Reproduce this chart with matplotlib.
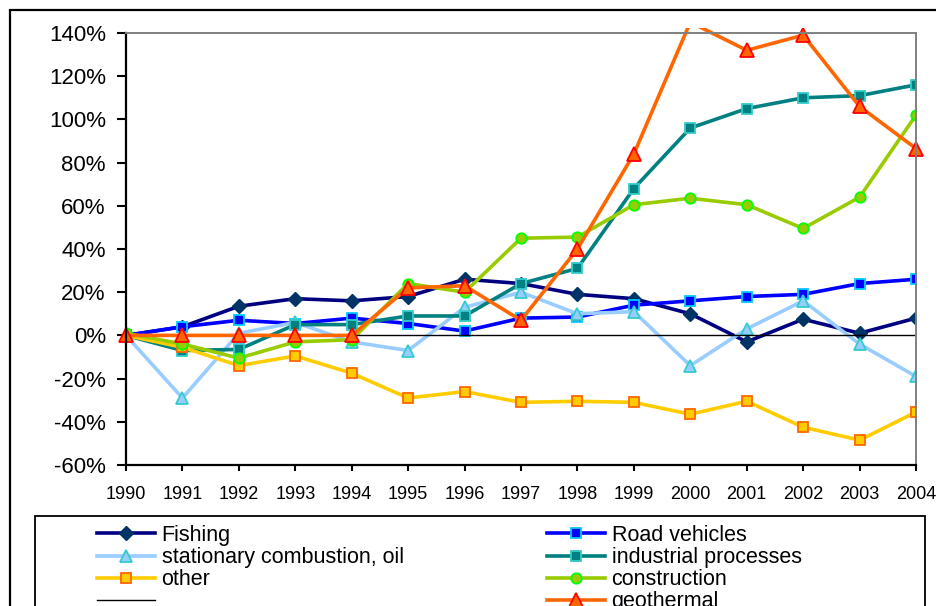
import matplotlib
matplotlib.use("Agg")
import matplotlib.pyplot as plt
from matplotlib.patches import Rectangle
from matplotlib.ticker import FuncFormatter

plt.rcParams['font.family'] = ['Liberation Sans', 'DejaVu Sans']

years = list(range(1990, 2005))

fishing = [0, 4, 13.5, 17, 16, 18, 26, 24, 19, 17, 10, -3, 7.5, 1, 8]
road_vehicles = [0, 4, 7, 5.5, 8, 5.5, 2, 8, 8.5, 14, 16, 18, 19, 24, 26]
stationary_oil = [0, -29, 1, 6, -3, -7, 13, 20, 10, 11, -14, 3, 16, -4, -19]
industrial = [0, -7, -6.5, 5, 5, 9, 9, 24, 31, 68, 96, 105, 110, 111, 116]
other = [0, -5.5, -14, -9.5, -17.5, -29, -26, -31, -30.5, -31, -36.5, -30.5, -42.5, -48.5, -35.5]
construction = [1, -4, -10.5, -3, -2, 24, 20, 45, 45.5, 60.5, 63.5, 60.5, 49.5, 64, 102]
zero = [0] * 15
geothermal = [0, 0, 0, 0, 0, 22, 23, 7, 40, 84, 145, 132, 139, 106, 86.5]

fig = plt.figure(figsize=(9.37, 6.06), dpi=100)
ax = fig.add_axes([126/937, 1 - 465/606, (916 - 126)/937, (465 - 33)/606])

lw = 2.6
mew = 1.3
h_fish, = ax.plot(years, fishing, color='#000080', lw=lw, marker='D', ms=7.5,
                  mfc='#003366', mec='#003366')
h_road, = ax.plot(years, road_vehicles, color='#0000FF', lw=lw, marker='s', ms=7,
                  mfc='#0000FF', mec='#00CCFF', mew=mew)
h_stat, = ax.plot(years, stationary_oil, color='#99CCFF', lw=lw, marker='^', ms=9,
                  mfc='#99CCFF', mec='#33CCCC', mew=mew)
h_ind, = ax.plot(years, industrial, color='#008080', lw=lw, marker='s', ms=7,
                 mfc='#008080', mec='#33CCCC', mew=mew)
h_oth, = ax.plot(years, other, color='#FFCC00', lw=lw, marker='s', ms=7,
                 mfc='#FFCC00', mec='#FF6600', mew=mew)
h_con, = ax.plot(years, construction, color='#99CC00', lw=lw, marker='o', ms=7.5,
                 mfc='#99CC00', mec='#00FF00', mew=mew)
h_zero, = ax.plot(years, zero, color='black', lw=1.0)
# the 2000 point is off the scale, so its marker is not shown
geo_marks = [i for i, v in enumerate(geothermal) if v <= 140]
h_geo, = ax.plot(years, geothermal, color='#FF6600', lw=lw, marker='^', ms=9.5,
                 mfc='#FF6600', mec='#FF0000', mew=mew, markevery=geo_marks)
# geothermal runs a little over the top of the plot area, as in the original
clip = Rectangle((-0.02, -0.05), 1.04, 1.0625, transform=ax.transAxes)
h_geo.set_clip_path(clip)

ax.set_xlim(1990, 2004)
ax.set_ylim(-60, 140)
ax.set_xticks(years)
ax.set_yticks(range(-60, 141, 20))
ax.yaxis.set_major_formatter(FuncFormatter(lambda v, p: '%d%%' % v))
ax.tick_params(axis='y', labelsize=16, length=6.5, width=1.5, pad=8, direction='out')
ax.tick_params(axis='x', labelsize=13, length=4, width=1.5, pad=11, direction='out')

ax.spines['left'].set_color('black')
ax.spines['bottom'].set_color('black')
ax.spines['left'].set_linewidth(1.6)
ax.spines['bottom'].set_linewidth(1.6)
ax.spines['top'].set_color('#808080')
ax.spines['right'].set_color('#808080')
ax.spines['top'].set_linewidth(1.4)
ax.spines['right'].set_linewidth(1.4)

# outer chart border (cropped on the right and bottom)
fig.patches.append(Rectangle((10/937, -0.2), 1.2, 0.2 + 1 - 10/606,
                             transform=fig.transFigure, fill=False,
                             ec='black', lw=1.6))
# legend box
fig.patches.append(Rectangle((35/937, -0.2), (925 - 35)/937, 0.2 + 1 - 516/606,
                             transform=fig.transFigure, fill=False,
                             ec='black', lw=1.3))

leg_kw = dict(loc='upper left', frameon=False, fontsize=15.5, borderpad=0,
              borderaxespad=0, handlelength=2.7, handletextpad=0.3,
              labelspacing=0.05)
fig.legend([h_fish, h_stat, h_oth, h_zero],
           ['Fishing', 'stationary combustion, oil', 'other', ''],
           bbox_to_anchor=(97/937, 1 - 525/606), **leg_kw)
fig.legend([h_road, h_ind, h_con, h_geo],
           ['Road vehicles', 'industrial processes', 'construction', 'geothermal'],
           bbox_to_anchor=(547/937, 1 - 525/606), **leg_kw)

fig.savefig('out.png', dpi=100)
